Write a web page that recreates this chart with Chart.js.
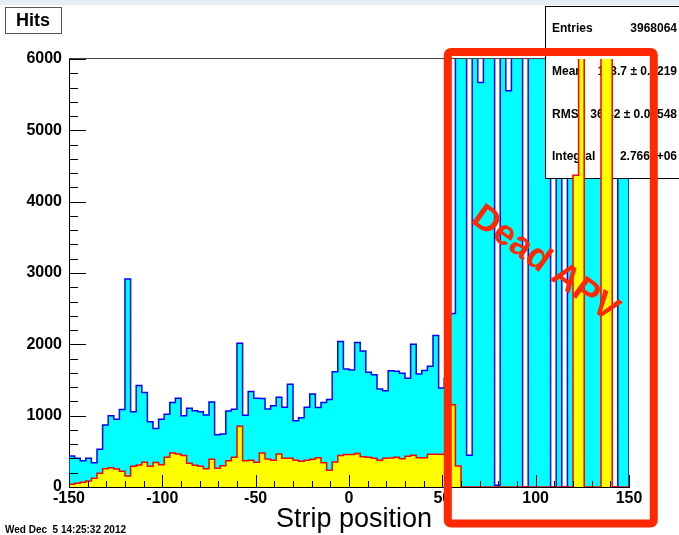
<!DOCTYPE html>
<html lang="en">
<head>
<meta charset="UTF-8">
<title>Hits vs strip position</title>
<script src="https://cdn.jsdelivr.net/npm/chart.js@4"></script>
<style>
  html, body { margin: 0; padding: 0; background: #fff; }
  #wrap { width: 679px; height: 535px; }
</style>
</head>
<body>
<div id="wrap"><canvas id="hits" width="679" height="535"></canvas></div>
<script>
// histogram binning: 100 bins of 3 strips from -150 to 150
const xMin = -150;
const xMax = 150;
const binWidth = 3;

// all hits (cyan), bins above 6000 are off scale
const allHits = [
  435, 402, 367, 402, 341, 530, 870, 998, 950, 1085,
  2917, 1056, 1424, 1325, 916, 820, 949, 1020, 1185, 1244,
  1000, 1104, 1068, 1056, 1010, 1192, 734, 744, 1064, 1090,
  2015, 1005, 1340, 1244, 1240, 1094, 1140, 1258, 1118, 1440,
  930, 972, 1118, 1304, 1113, 1183, 1225, 1617, 2038, 1655,
  1641, 2024, 1907, 1608, 1575, 1374, 1351, 1631, 1622, 1594,
  1524, 2001, 1585, 1632, 1692, 2123, 1388, 1520, 2432, 148000,
  162000, 445, 171000, 5670, 139000, 155000, 25, 166000, 5554, 143000,
  158000, 0, 176000, 151000, 137000, 164000, 0, 149000, 0, 172000,
  181000, 196000, 154000, 146000, 160000, 188000, 203000, 0, 157000, 141000
];

// selected hits (yellow)
const cutHits = [
  37, 51, 65, 84, 121, 192, 257, 271, 254, 220,
  154, 290, 308, 346, 290, 342, 313, 416, 477, 463,
  440, 332, 304, 290, 257, 388, 262, 299, 369, 416,
  851, 369, 374, 346, 477, 393, 374, 463, 402, 402,
  374, 360, 374, 388, 411, 341, 234, 351, 440, 454,
  454, 468, 425, 416, 402, 374, 402, 407, 416, 397,
  430, 444, 411, 411, 458, 458, 460, 470, 1152, 295,
  0, 0, 0, 0, 0, 0, 0, 0, 0, 0,
  0, 0, 0, 0, 0, 0, 0, 0, 0, 0,
  4372, 31000, 0, 0, 0, 27000, 34000, 0, 0, 0
];

const statsLabels = ["Entries", "Mean", "RMS", "Integral"];
const statsValues = ["3968064", "113.7 \u00b1 0.0219", "36.42 \u00b1 0.01548", "2.766e+06"];

const FONT = "'Liberation Sans', Arial, Helvetica, sans-serif";

// ROOT-like step outline: bin low edges, closed down to zero at both ends
function stepPoints(values) {
  const pts = [{ x: xMin, y: 0 }];
  values.forEach((v, i) => pts.push({ x: xMin + i * binWidth, y: v }));
  const end = xMin + values.length * binWidth;
  pts.push({ x: end, y: values[values.length - 1] });
  pts.push({ x: end, y: 0 });
  return pts;
}

const rootTicks = {
  id: "rootTicks",
  afterDatasetsDraw(chart) {
    const { ctx, chartArea: a, scales: { x, y } } = chart;
    ctx.save();
    ctx.strokeStyle = "#000";
    ctx.lineWidth = 1;
    ctx.beginPath();
    for (let v = 0; v <= 6000; v += 200) {
      const py = Math.round(y.getPixelForValue(v)) + 0.5;
      const len = v % 1000 === 0 ? 17 : 9;
      ctx.moveTo(a.left, py);
      ctx.lineTo(a.left + len, py);
    }
    for (let v = xMin; v <= xMax; v += 10) {
      const px = Math.round(x.getPixelForValue(v)) + 0.5;
      const len = v % 50 === 0 ? 12 : 6;
      ctx.moveTo(px, a.bottom);
      ctx.lineTo(px, a.bottom - len);
    }
    ctx.stroke();
    ctx.restore();
  }
};

const decorations = {
  id: "decorations",
  beforeDraw(chart) {
    const { ctx, width, height } = chart;
    ctx.save();
    ctx.fillStyle = "#fff";
    ctx.fillRect(0, 0, width, height);
    ctx.fillStyle = "#e4eef4";
    ctx.fillRect(0, 0, width, 5);
    ctx.restore();
  },
  afterDatasetDraw(chart, args) {
    if (args.index !== 1) return;
    const { ctx, chartArea: a } = chart;
    ctx.save();
    // top frame line
    ctx.strokeStyle = "#444";
    ctx.lineWidth = 1;
    ctx.beginPath();
    ctx.moveTo(a.left, a.top - 0.5);
    ctx.lineTo(a.right, a.top - 0.5);
    ctx.stroke();
    // stats box, sits between the two histograms
    ctx.fillStyle = "#fff";
    ctx.fillRect(545.5, 6.5, 140, 172);
    ctx.strokeStyle = "#000";
    ctx.strokeRect(545.5, 6.5, 140, 172);
    ctx.fillStyle = "#000";
    ctx.font = "bold 12px " + FONT;
    ctx.textBaseline = "middle";
    const rows = [29, 72, 115, 157];
    statsLabels.forEach((lab, i) => {
      ctx.textAlign = "left";
      ctx.fillText(lab, 552, rows[i]);
      ctx.textAlign = "right";
      ctx.fillText(statsValues[i], 677, rows[i]);
    });
    ctx.restore();
  },
  afterDraw(chart) {
    const { ctx } = chart;
    ctx.save();
    // title box
    ctx.fillStyle = "#fff";
    ctx.fillRect(5.5, 7.5, 56, 26);
    ctx.strokeStyle = "#555";
    ctx.lineWidth = 1;
    ctx.strokeRect(5.5, 7.5, 56, 26);
    ctx.fillStyle = "#000";
    ctx.font = "bold 18px " + FONT;
    ctx.textAlign = "center";
    ctx.textBaseline = "middle";
    ctx.fillText("Hits", 33, 21);
    // date stamp
    ctx.font = "bold 10px " + FONT;
    ctx.textAlign = "left";
    ctx.textBaseline = "alphabetic";
    ctx.fillText("Wed Dec  5 14:25:32 2012", 5, 533);
    // axis title
    ctx.font = "27px " + FONT;
    ctx.textAlign = "center";
    ctx.fillText("Strip position", 354, 527);
    // annotation
    ctx.strokeStyle = "#ff2800";
    ctx.lineWidth = 8;
    ctx.lineJoin = "round";
    ctx.beginPath();
    ctx.roundRect(447.8, 52, 206, 471.5, 3);
    ctx.stroke();
    ctx.translate(545, 264);
    ctx.rotate(36 * Math.PI / 180);
    ctx.fillStyle = "#ff2800";
    ctx.font = "bold 36px " + FONT;
    ctx.textBaseline = "middle";
    ctx.fillText("Dead APV", 0, 0);
    ctx.restore();
  }
};

const tickFont = { family: FONT, size: 16, weight: "bold" };

new Chart(document.getElementById("hits"), {
  type: "line",
  data: {
    datasets: [
      {
        label: "selected",
        data: stepPoints(cutHits),
        stepped: "before",
        borderColor: "#ff0000",
        backgroundColor: "#ffff00",
        borderWidth: 1.5,
        pointRadius: 0,
        fill: "origin"
      },
      {
        label: "all",
        data: stepPoints(allHits),
        stepped: "before",
        borderColor: "#0000ff",
        backgroundColor: "#00ffff",
        borderWidth: 1.5,
        pointRadius: 0,
        fill: "origin"
      }
    ]
  },
  options: {
    responsive: false,
    animation: false,
    devicePixelRatio: 1,
    layout: { padding: { top: 59, right: 50, left: 0, bottom: 0 } },
    plugins: { legend: { display: false }, tooltip: { enabled: false } },
    scales: {
      x: {
        type: "linear",
        min: xMin,
        max: xMax,
        afterFit: (s) => { s.height = 48; },
        ticks: { stepSize: 50, padding: 2, color: "#000", font: tickFont, callback: (v) => String(v) },
        grid: { drawOnChartArea: false, drawTicks: false },
        border: { color: "#000", width: 1 }
      },
      y: {
        min: 0,
        max: 6000,
        afterFit: (s) => { s.width = 69; },
        ticks: { stepSize: 1000, padding: 7, color: "#000", font: tickFont, callback: (v) => String(v) },
        grid: { drawOnChartArea: false, drawTicks: false },
        border: { color: "#000", width: 1 }
      }
    }
  },
  plugins: [rootTicks, decorations]
});
</script>
</body>
</html>
